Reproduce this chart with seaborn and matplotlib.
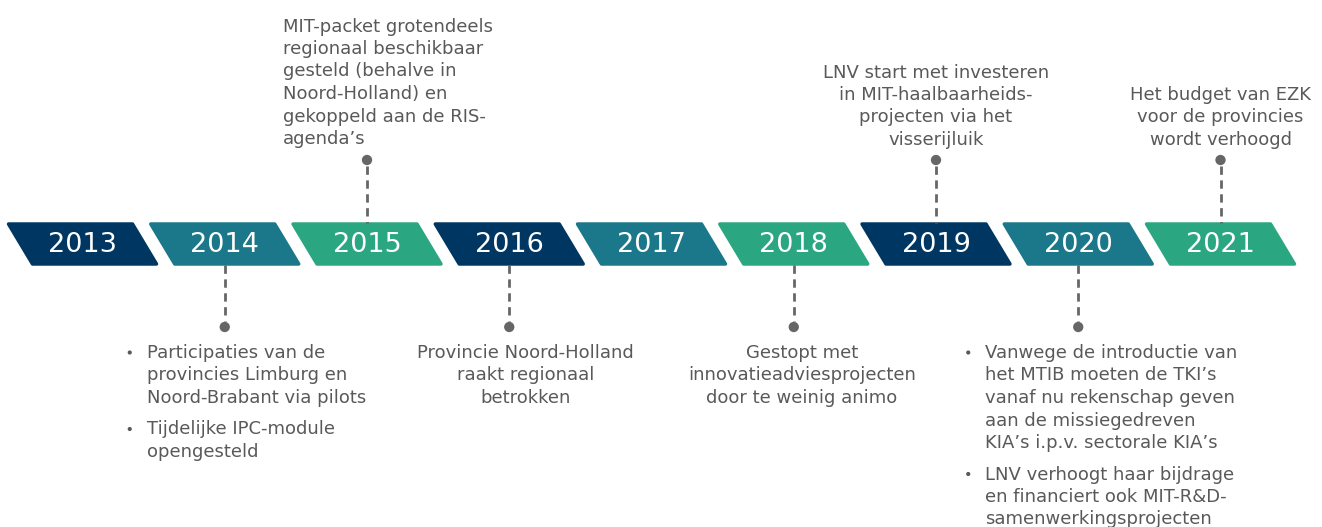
import numpy as np
import pandas as pd
import matplotlib.pyplot as plt
import seaborn as sns
from matplotlib.patches import Polygon

# --- gegevens ---
jaren = [2013, 2014, 2015, 2016, 2017, 2018, 2019, 2020, 2021]

boven_jaren = [2015, 2019, 2021]
boven_teksten = [
    ["MIT-packet grotendeels", "regionaal beschikbaar", "gesteld (behalve in",
     "Noord-Holland) en", "gekoppeld aan de RIS-", "agenda\u2019s"],
    ["LNV start met investeren", "in MIT-haalbaarheids-", "projecten via het",
     "visserijluik"],
    ["Het budget van EZK", "voor de provincies", "wordt verhoogd"],
]

onder_jaren = [2014, 2016, 2018, 2020]
onder_teksten = [
    [["Participaties van de", "provincies Limburg en", "Noord-Brabant via pilots"],
     ["Tijdelijke IPC-module", "opengesteld"]],
    [["Provincie Noord-Holland", "raakt regionaal", "betrokken"]],
    [["Gestopt met", "innovatieadviesprojecten", "door te weinig animo"]],
    [["Vanwege de introductie van", "het MTIB moeten de TKI\u2019s",
      "vanaf nu rekenschap geven", "aan de missiegedreven",
      "KIA\u2019s i.p.v. sectorale KIA\u2019s"],
     ["LNV verhoogt haar bijdrage", "en financiert ook MIT-R&D-",
      "samenwerkingsprojecten"]],
]

# --- opmaak ---
palet = ["#003762", "#1b778a", "#2aa781"]
tekstkleur = "#595959"
lijnkleur = "#666666"

X0, STAP = 8.5, 142.25
BREED, SCHUIN = 124, 24
Y_BOVEN, Y_ONDER = 224, 264
PUNT_BOVEN, PUNT_ONDER = 160, 327
REGEL = 22.5
FS = 13

# uitlijning per jaar: (ha, verschuiving t.o.v. midden, bullets)
uitlijning = {
    2015: ("left", -84, False),
    2019: ("center", 0, False),
    2021: ("center", 0, False),
    2014: ("left", -97, True),
    2016: ("center", 16, False),
    2018: ("center", 8, False),
    2020: ("left", -112, True),
}


def midden(jaar):
    i = jaren.index(jaar)
    return X0 + i * STAP + (BREED + SCHUIN) / 2


sns.set_theme(style="white")
plt.rcParams["font.family"] = ["DejaVu Sans"]

fig = plt.figure(figsize=(13.22, 5.27), dpi=100)
ax = fig.add_axes([0, 0, 1, 1])
ax.set_xlim(0, 1322)
ax.set_ylim(527, 0)
ax.axis("off")

# jaarvakken
for i, jaar in enumerate(jaren):
    x = X0 + i * STAP
    kleur = palet[i % 3]
    hoeken = [(x, Y_BOVEN), (x + BREED, Y_BOVEN),
              (x + BREED + SCHUIN, Y_ONDER), (x + SCHUIN, Y_ONDER)]
    ax.add_patch(Polygon(hoeken, closed=True, facecolor=kleur, edgecolor=kleur,
                         linewidth=2.5, joinstyle="round"))
    ax.text(midden(jaar), (Y_BOVEN + Y_ONDER) / 2 + 1, str(jaar), color="white",
            fontsize=19.5, ha="center", va="center")

# verbindingslijnen en punten
punten = pd.DataFrame({
    "x": [midden(j) for j in boven_jaren] + [midden(j) for j in onder_jaren],
    "y": [PUNT_BOVEN] * len(boven_jaren) + [PUNT_ONDER] * len(onder_jaren),
})
for j in boven_jaren:
    ax.plot([midden(j)] * 2, [PUNT_BOVEN + 6, Y_BOVEN - 1], color=lijnkleur,
            lw=2, ls=(0, (3, 2)))
for j in onder_jaren:
    ax.plot([midden(j)] * 2, [Y_ONDER + 1, PUNT_ONDER - 6], color=lijnkleur,
            lw=2, ls=(0, (3, 2)))
sns.scatterplot(data=punten, x="x", y="y", ax=ax, s=55, color=lijnkleur,
                edgecolor="none", legend=False, zorder=5)

opsomming = []  # posities van de opsommingstekens


def schrijf(jaar, blokken, eerste_basislijn):
    ha, dx, bullets = uitlijning[jaar]
    x = midden(jaar) + dx
    y = eerste_basislijn
    for blok in blokken:
        for k, regel in enumerate(blok):
            if bullets:
                if k == 0:
                    opsomming.append((x + 2, y - 5.5))
                ax.text(x + 19, y, regel, fontsize=FS, color=tekstkleur,
                        ha="left", va="baseline")
            else:
                ax.text(x, y, regel, fontsize=FS, color=tekstkleur,
                        ha=ha, va="baseline")
            y += REGEL
        y += 9


# teksten boven (onderkant uitgelijnd)
for jaar, regels in zip(boven_jaren, boven_teksten):
    laatste = 145
    schrijf(jaar, [regels], laatste - REGEL * (len(regels) - 1) - (1 if jaar == 2015 else 0))

# teksten onder
for jaar, blokken in zip(onder_jaren, onder_teksten):
    schrijf(jaar, blokken, 358)

bol = pd.DataFrame(opsomming, columns=["x", "y"])
sns.scatterplot(data=bol, x="x", y="y", ax=ax, s=9, color=tekstkleur,
                edgecolor="none", legend=False, zorder=5)

fig.savefig("out.png", dpi=100, facecolor="white")
